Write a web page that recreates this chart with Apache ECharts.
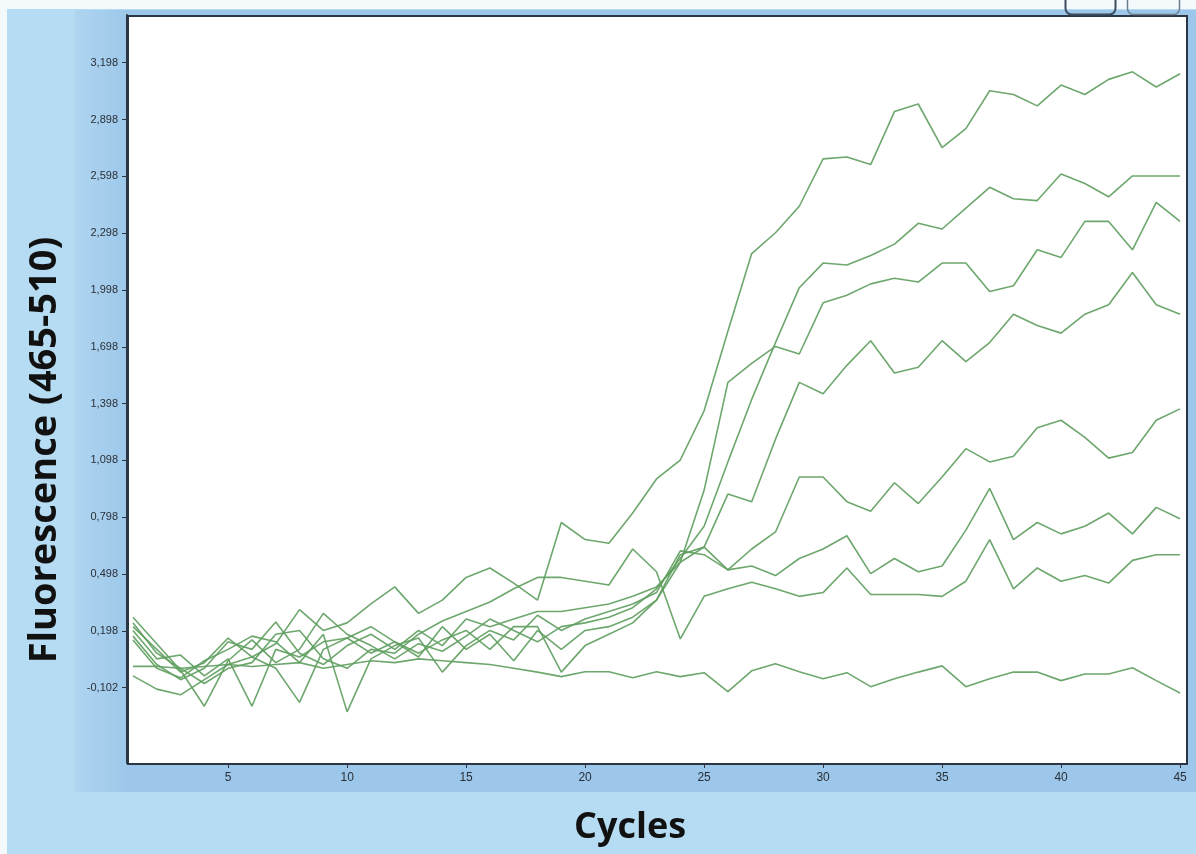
<!DOCTYPE html>
<html>
<head>
<meta charset="utf-8">
<script src="https://cdn.jsdelivr.net/npm/echarts@6/dist/echarts.min.js"></script>
<style>
html,body{margin:0;padding:0;background:#ffffff;}
#chart{width:1196px;height:854px;}
</style>
</head>
<body>
<div id="chart"></div>
<script>
// Cycles (x axis)
var cycles = [1,2,3,4,5,6,7,8,9,10,11,12,13,14,15,16,17,18,19,20,21,22,23,24,25,26,27,28,29,30,31,32,33,34,35,36,37,38,39,40,41,42,43,44,45];
// Tick labels
var xTicks = [5,10,15,20,25,30,35,40,45];
var yTicks = [-0.102,0.198,0.498,0.798,1.098,1.398,1.698,1.998,2.298,2.598,2.898,3.198];
var xTitle = 'Cycles';
var yTitle = 'Fluorescence (465-510)';

// Fluorescence curves
var curveA = [0.22,0.10,-0.02,0.03,0.16,0.06,0.13,0.31,0.20,0.24,0.34,0.43,0.29,0.36,0.48,0.53,0.45,0.36,
  0.77,0.68,0.66,0.82,1.00,1.10,1.36,1.78,2.19,2.30,2.44,2.69,2.70,2.66,2.94,2.98,2.75,2.85,3.05,3.03,2.97,3.08,3.03,3.11,3.15,3.07,3.14];
var curveB = [0.27,0.13,-0.01,-0.20,0.04,0.15,0.03,0.10,0.29,0.18,0.12,0.05,0.13,0.09,0.17,0.26,0.20,0.14,
  0.22,0.24,0.27,0.32,0.42,0.58,0.75,1.09,1.42,1.72,2.01,2.14,2.13,2.18,2.24,2.35,2.32,2.43,2.54,2.48,2.47,2.61,2.56,2.49,2.60,2.60,2.60];
var curveC = [0.20,0.05,0.07,-0.04,0.05,-0.20,0.10,0.06,0.14,0.16,0.08,0.14,0.06,0.22,0.10,0.18,0.04,0.20,
  0.10,0.20,0.22,0.27,0.36,0.56,0.94,1.51,1.61,1.70,1.66,1.93,1.97,2.03,2.06,2.04,2.14,2.14,1.99,2.02,2.21,2.17,2.36,2.36,2.21,2.46,2.36];
var curveD = [0.17,0.02,-0.06,0.00,0.14,0.10,0.245,0.08,0.02,0.12,0.18,0.10,0.20,0.12,0.26,0.22,0.26,0.30,
  0.30,0.32,0.34,0.38,0.43,0.56,0.64,0.92,0.88,1.21,1.51,1.45,1.60,1.73,1.56,1.59,1.73,1.62,1.72,1.87,1.81,1.77,1.87,1.92,2.09,1.92,1.87];
var curveE = [-0.04,-0.11,-0.14,-0.06,0.02,0.06,0.00,-0.18,0.10,0.16,0.22,0.14,0.08,0.15,0.20,0.10,0.22,0.22,
  -0.02,0.12,0.18,0.24,0.36,0.60,0.64,0.52,0.63,0.72,1.01,1.01,0.88,0.83,0.98,0.87,1.01,1.16,1.09,1.12,1.27,1.31,1.22,1.11,1.14,1.31,1.37];
var curveF = [0.15,0.00,-0.05,0.04,0.10,0.17,0.14,0.03,0.18,-0.23,0.05,0.12,0.16,-0.02,0.12,0.20,0.15,0.28,
  0.20,0.26,0.30,0.34,0.40,0.62,0.60,0.52,0.54,0.49,0.58,0.63,0.70,0.50,0.58,0.51,0.54,0.73,0.95,0.68,0.77,0.71,0.75,0.82,0.71,0.85,0.79];
var curveG = [0.24,0.08,0.00,-0.08,0.00,0.03,0.18,0.20,0.05,0.00,0.10,0.08,0.18,0.25,0.30,0.35,0.42,0.48,
  0.48,0.46,0.44,0.63,0.51,0.155,0.38,0.42,0.455,0.42,0.38,0.40,0.53,0.39,0.39,0.39,0.38,0.46,0.68,0.42,0.53,0.46,0.49,0.45,0.57,0.60,0.60];
var curveH = [0.01,0.01,0.00,0.01,0.02,0.01,0.02,0.03,0.00,0.02,0.04,0.03,0.05,0.04,0.03,0.02,0.00,-0.02,
  -0.044,-0.018,-0.018,-0.05,-0.018,-0.044,-0.023,-0.123,-0.013,0.024,-0.018,-0.055,-0.023,-0.097,-0.055,-0.02,0.013,-0.097,-0.055,-0.02,-0.02,-0.065,-0.03,-0.03,0.003,-0.065,-0.13];

var curves = [curveA, curveB, curveC, curveD, curveE, curveF, curveG, curveH];

function pairs(vals){
  var out = [];
  for (var i = 0; i < cycles.length; i++) out.push([cycles[i], vals[i]]);
  return out;
}

var chart = echarts.init(document.getElementById('chart'), null, {renderer:'canvas'});

var seriesList = curves.map(function(c, i){
  return {
    type:'line',
    name:'s' + i,
    data: pairs(c),
    symbol:'none',
    smooth:false,
    silent:true,
    lineStyle:{color:'#619f61', width:1.6, opacity:0.92},
    z: 5
  };
});

var option = {
  backgroundColor:'#b5dcf2',
  animation:false,
  graphic:[
    {type:'rect', left:0, top:0, shape:{width:1196, height:9}, style:{fill:'#f4f9fc'}, z:0},
    {type:'rect', left:0, top:0, shape:{width:7, height:854}, style:{fill:'#f4f9fc'}, z:0},
    {type:'rect', left:75, top:10, shape:{width:1121, height:782},
      style:{fill:new echarts.graphic.LinearGradient(0,0,1,0,[{offset:0,color:'#afd5f0'},{offset:0.05,color:'#9cc7ea'},{offset:1,color:'#9cc7ea'}])}, z:0},
    {type:'rect', left:127, top:15, shape:{width:1059, height:748}, style:{fill:'#ffffff', stroke:'#2b3644', lineWidth:2}, z:1},
    {type:'rect', left:1063, top:-12, shape:{width:50, height:24, r:6}, style:{fill:'none', stroke:'#3b4c5e', lineWidth:2}, z:2},
    {type:'rect', left:1125, top:-12, shape:{width:52, height:24, r:6}, style:{fill:'none', stroke:'#6b7b8c', lineWidth:1.5}, z:2},
    {type:'text', x:630, y:828, z:3,
      style:{text:xTitle, font:'bold 36px "Open Sans", sans-serif', fill:'#111111', align:'center', verticalAlign:'middle'}},
    {type:'text', x:45, y:450, rotation:Math.PI/2, z:3,
      style:{text:yTitle, font:'bold 38px "Open Sans", sans-serif', fill:'#111111', align:'center', verticalAlign:'middle'}}
  ],
  grid:{left:127, top:15, width:1059, height:748, containLabel:false},
  xAxis:{
    type:'value', min:0.75, max:45.25,
    axisLine:{show:true, onZero:false, lineStyle:{color:'#2b3644', width:2}},
    axisTick:{show:true, inside:false, length:5, customValues:xTicks, lineStyle:{color:'#2b3644', width:1}},
    axisLabel:{customValues:xTicks, margin:9, fontFamily:'Liberation Sans Narrow, Arial Narrow, Liberation Sans, sans-serif', fontSize:12, color:'#2a2f36'},
    splitLine:{show:false}
  },
  yAxis:{
    type:'value', min:-0.5, max:3.45,
    axisLine:{show:true, onZero:false, lineStyle:{color:'#2b3644', width:2}},
    axisTick:{show:true, inside:false, length:5, customValues:yTicks, lineStyle:{color:'#2b3644', width:1}},
    axisLabel:{customValues:yTicks, margin:9, fontFamily:'Liberation Sans Narrow, Arial Narrow, Liberation Sans, sans-serif', fontSize:11, color:'#2a2f36',
      formatter:function(v){ return v.toFixed(3).replace('.', ','); }},
    splitLine:{show:false}
  },
  series: seriesList
};
chart.setOption(option);
</script>
</body>
</html>
